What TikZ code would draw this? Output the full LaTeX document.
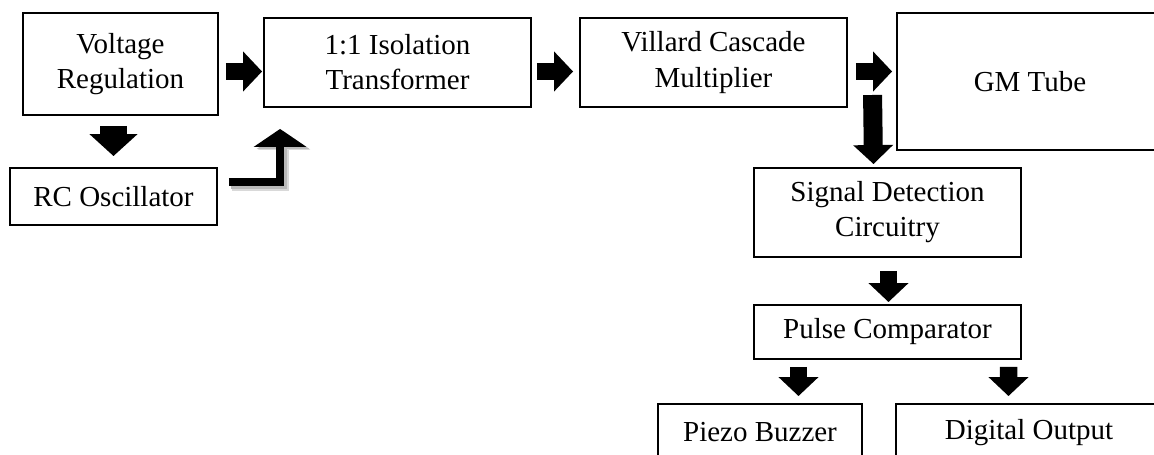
\documentclass[tikz,border=0pt]{standalone}
\usepackage{fontspec}
\setmainfont{Liberation Serif}
\usetikzlibrary{arrows.meta,calc}

\begin{document}
\begin{tikzpicture}[x=0.02cm,y=-0.02cm,
  block/.style={draw,line width=1.1pt,inner sep=0pt,align=center,
    font=\fontsize{16.5}{20}\selectfont},
  flow/.style={line width=0.35cm,-{Triangle[length=0.38cm,width=0.78cm]}},
  feed/.style={line width=0.16cm,-{Triangle[length=0.36cm,width=1.04cm]}}
]
  \useasboundingbox (0,0) rectangle (1154,455);
  \clip (0,0) rectangle (1154,455);
  \node[block,minimum width=3.9cm,minimum height=2.04cm] (vreg) at (120.5,64) {Voltage\\Regulation};
  \node[block,minimum width=4.14cm,minimum height=1.14cm] (rcosc) at (113.5,196.5) {RC Oscillator};
  \node[block,minimum width=5.34cm,minimum height=1.78cm] (iso) at (397.5,62.5) {1:1 Isolation\\Transformer};
  \node[block,minimum width=5.34cm,minimum height=1.78cm] (villard) at (713.5,62.5) {Villard Cascade\\Multiplier};
  \node[block,minimum width=5.32cm,minimum height=2.74cm] (gm) at (1030,81.5) {GM Tube};
  \node[block,minimum width=5.34cm,minimum height=1.78cm] (detect) at (887.5,212.5) {Signal Detection\\Circuitry};
  \node[block,minimum width=5.34cm,minimum height=1.08cm] (pulse) at (887.5,332) {Pulse Comparator};
  \node[block,minimum width=4.08cm,minimum height=1.14cm] (piezo) at (760,432.5) {Piezo Buzzer};
  \node[block,minimum width=5.32cm,minimum height=1.14cm] (digout) at (1029,432.5) {Digital Output};
  % main chain
  \draw[flow] ($(vreg.east)+(7,7.5)$) -- ($(iso.west)+(-1,9)$);
  \draw[flow] ($(iso.east)+(5,9)$) -- ($(villard.west)+(-6,9)$);
  \draw[flow] ($(villard.east)+(8,9)$) -- ($(gm.west)+(-4,-10)$);
  \draw[flow,line width=0.54cm,-{Triangle[length=0.44cm,width=0.94cm]}]
    ($(vreg.south)+(-7,10)$) -- ($(rcosc.north)+(0,-11)$);
  \draw[flow,line width=0.38cm] ($(gm.west)+(-23.5,13.5)$) -- ($(detect.north)+(-14,-3)$);
  \draw[flow] ($(detect.south)+(1,13)$) -- ($(pulse.north)+(1,-2)$);
  \draw[flow] ($(pulse.south)+(-89,7)$) -- ($(piezo.north)+(38.5,-7)$);
  \draw[flow] ($(pulse.south)+(121,7)$) -- ($(digout.north)+(-20.5,-7)$);
  % oscillator feed with shadow
  \draw[feed,gray!30,line width=0.2cm] ($(rcosc.east)+(14,-10)$) -| ($(iso.south west)+(21,24)$);
  \draw[feed,gray!55] ($(rcosc.east)+(13,-11)$) -| ($(iso.south west)+(20,23)$);
  \draw[feed] ($(rcosc.east)+(11,-14)$) -| ($(iso.south west)+(17,21)$);
\end{tikzpicture}
\end{document}
